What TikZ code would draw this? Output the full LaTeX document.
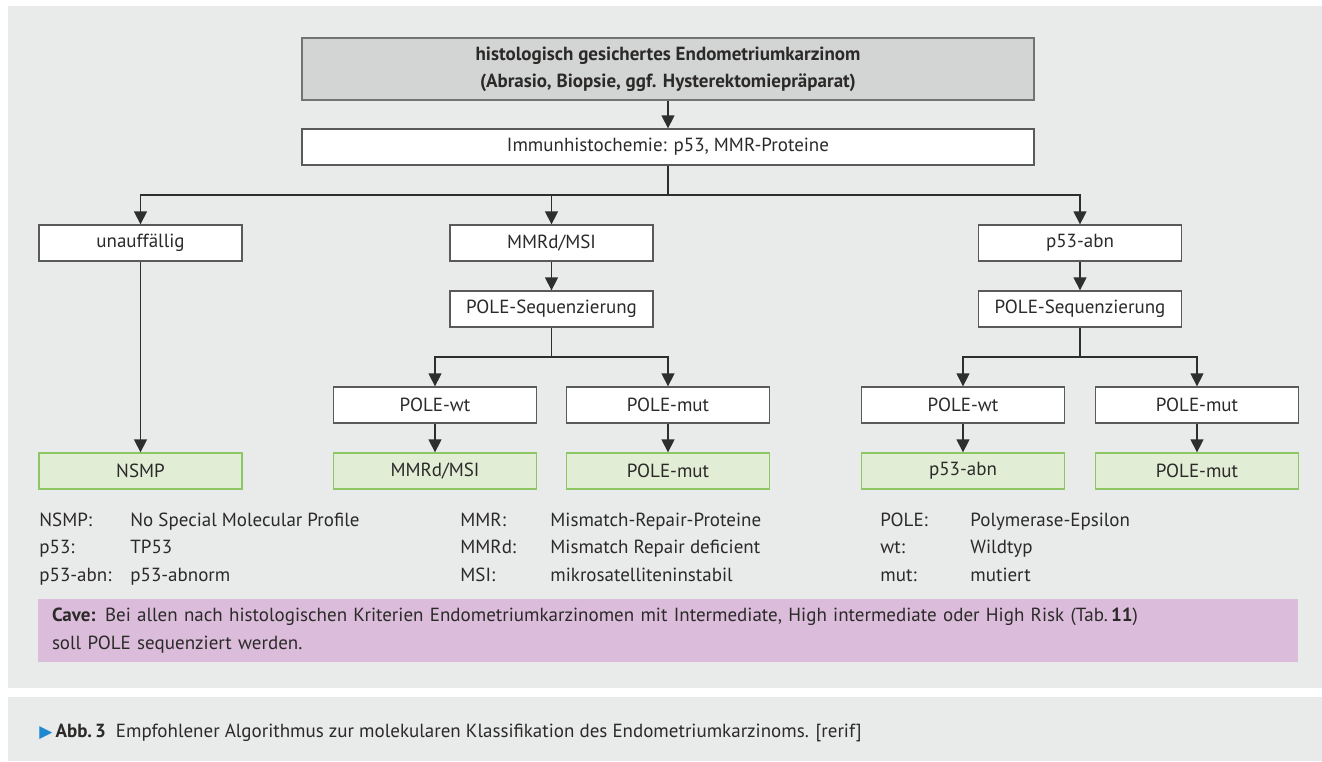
\documentclass[tikz,border=0pt]{standalone}
\usepackage{fontspec}
\setmainfont{PT Sans}
\newfontfamily\symfont{DejaVu Sans}
\usepackage{tikz}
\usetikzlibrary{arrows.meta}
\definecolor{panelgrey}{HTML}{E9EAEA}
\definecolor{headfill}{HTML}{D3D4D4}
\definecolor{headline}{HTML}{737373}
\definecolor{boxline}{HTML}{5A5A5A}
\definecolor{connline}{HTML}{2E2E2E}
\definecolor{resfill}{HTML}{E2EDD6}
\definecolor{resline}{HTML}{8CC763}
\definecolor{cavefill}{HTML}{DBBDDB}
\definecolor{capblue}{HTML}{1E88D0}
\definecolor{textcol}{HTML}{2B2A29}
\newcommand{\bnode}[4]{\node(#1)[#2] at (#3){#4}}

\begin{document}
\begin{tikzpicture}[
        x=0.5pt, y=-0.5pt,
        every node/.style={font=\fontsize{9.5pt}{13.75pt}\selectfont, text=textcol},
        box/.style={rectangle, draw=boxline, line width=0.65pt, fill=white,
                    minimum width=101.5pt, minimum height=18pt, inner sep=0pt},
        wide/.style={box, minimum width=366pt},
        head/.style={wide, fill=headfill, draw=headline, minimum height=31pt, align=center,
                     font=\fontsize{9.5pt}{13.35pt}\selectfont\bfseries},
        result/.style={box, fill=resfill, draw=resline},
        conn/.style={draw=connline, line width=0.65pt, -{Triangle[length=6.5pt,width=6.5pt]}},
        legend/.style={anchor=west, inner sep=0pt, align=left},
        cavebox/.style={rectangle, fill=cavefill, minimum width=630pt, minimum height=31.5pt,
                        text width=616pt, align=left, inner sep=0pt}
      ]
      \fill[white] (0,0) rectangle (1322,761);
      \useasboundingbox (0,0) rectangle (1322,761);
      \fill[panelgrey] (8,6) rectangle (1322,688);
      \fill[panelgrey] (8,697) rectangle (1322,761);

      \bnode{head}{head}{668,69}{histologisch gesichertes Endometriumkarzinom\\(Abrasio, Biopsie, ggf. Hysterektomiepräparat)};
      \bnode{immuno}{wide}{668,147}{Immunhistochemie: p53, MMR-Proteine};

      \bnode{unauff}{box}{140.5,243}{unauffällig};
      \bnode{mmrd}{box}{551.5,243}{MMRd/MSI};
      \bnode{p53abn}{box}{1080,243}{p53-abn};

      \bnode{seqL}{box}{551.5,309}{POLE-Sequenzierung};
      \bnode{seqR}{box}{1080,309}{POLE-Sequenzierung};

      \bnode{wtL}{box}{435,405}{POLE-wt};
      \bnode{mutL}{box}{668,405}{POLE-mut};
      \bnode{wtR}{box}{963,405}{POLE-wt};
      \bnode{mutR}{box}{1197,405}{POLE-mut};

      \bnode{nsmp}{result}{140.5,471}{NSMP};
      \bnode{resMmrd}{result}{435,471}{MMRd/MSI};
      \bnode{resMutL}{result}{668,471}{POLE-mut};
      \bnode{resP53}{result}{963,471}{p53-abn};
      \bnode{resMutR}{result}{1197,471}{POLE-mut};

      \coordinate (hub0) at (668,195);
      \coordinate (hubL) at (551.5,357);
      \coordinate (hubR) at (1080,357);

      \draw[conn] (head) -- (immuno);
      \draw[conn] (immuno) -- (hub0) -| (unauff);
      \draw[conn] (immuno) -- (hub0) -| (mmrd);
      \draw[conn] (immuno) -- (hub0) -| (p53abn);
      \draw[conn] (mmrd) -- (seqL);
      \draw[conn] (p53abn) -- (seqR);
      \draw[conn] (seqL) -- (hubL) -| (wtL);
      \draw[conn] (seqL) -- (hubL) -| (mutL);
      \draw[conn] (seqR) -- (hubR) -| (wtR);
      \draw[conn] (seqR) -- (hubR) -| (mutR);
      \draw[conn] (unauff) -- (nsmp);
      \draw[conn] (wtL) -- (resMmrd);
      \draw[conn] (mutL) -- (resMutL);
      \draw[conn] (wtR) -- (resP53);
      \draw[conn] (mutR) -- (resMutR);

      \node (legA) [legend] at (39,548) {\begin{tabular}{@{}p{45.5pt}@{}l@{}}
        NSMP: & No Special Molecular Profile\\ p53: & TP53\\ p53-abn: & p53-abnorm\end{tabular}};
      \node (legB) [legend] at (460,548) {\begin{tabular}{@{}p{45pt}@{}l@{}}
        MMR: & Mismatch-Repair-Proteine\\ MMRd: & Mismatch Repair deficient\\ MSI: & mikrosatelliteninstabil\end{tabular}};
      \node (legC) [legend] at (880,548) {\begin{tabular}{@{}p{45pt}@{}l@{}}
        POLE: & Polymerase-Epsilon\\ wt: & Wildtyp\\ mut: & mutiert\end{tabular}};

      \node (cave) [cavebox] at (668,630.5) {\textbf{Cave:} Bei allen nach histologischen Kriterien Endometriumkarzinomen mit Intermediate, High intermediate oder High Risk (Tab.\,\textbf{11})\\soll POLE sequenziert werden.};

      \node (caption) [anchor=west, inner sep=0pt] at (39,733) {{\symfont\fontsize{8.5pt}{8.5pt}\selectfont\color{capblue}▶}\,\textbf{Abb.\,3}\hspace{5pt}Empfohlener Algorithmus zur molekularen Klassifikation des Endometriumkarzinoms. [rerif]};

    \end{tikzpicture}
\end{document}
